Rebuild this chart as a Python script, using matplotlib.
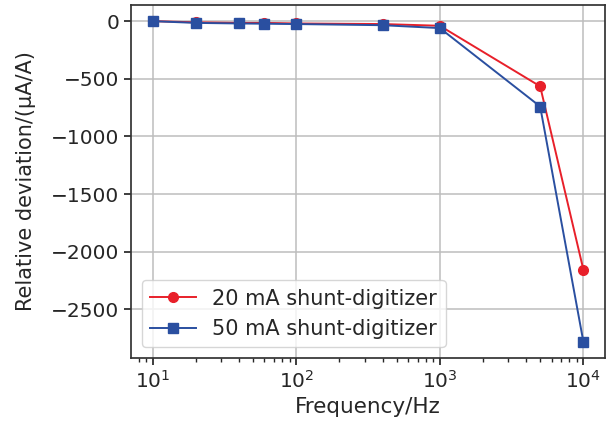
import matplotlib
matplotlib.use("Agg")
import matplotlib.pyplot as plt

freq_hz = [10, 20, 40, 60, 100, 400, 1000, 5000, 10000]
dev_20mA = [0, -10, -15, -15, -20, -25, -40, -565, -2155]
dev_50mA = [0, -15, -20, -22, -25, -35, -60, -740, -2780]

text_grey = "#262626"
plt.rcParams.update({
    "font.size": 15,
    "text.color": text_grey,
    "axes.labelcolor": text_grey,
    "axes.edgecolor": "#333333",
    "axes.linewidth": 1.25,
    "xtick.color": text_grey,
    "ytick.color": text_grey,
    "xtick.labelsize": 14.5,
    "ytick.labelsize": 14.5,
    "xtick.major.size": 5,
    "ytick.major.size": 5,
    "xtick.minor.size": 3,
    "xtick.major.width": 1.25,
    "ytick.major.width": 1.25,
    "xtick.minor.width": 1.0,
})

fig, ax = plt.subplots(figsize=(6.16, 4.28), dpi=100)
fig.subplots_adjust(left=0.213, right=0.982, top=0.988, bottom=0.164)

ax.plot(freq_hz, dev_20mA, color="#e8202a", marker="o", markersize=7, linewidth=1.4,
        label="20 mA shunt-digitizer")
ax.plot(freq_hz, dev_50mA, color="#2a4fa0", marker="s", markersize=7, linewidth=1.4,
        label="50 mA shunt-digitizer")

ax.set_xscale("log")
ax.grid(True, which="major", color="#bdbdbd", linewidth=1.1)
ax.set_axisbelow(True)

ax.set_xlabel("Frequency/Hz", fontsize=15.5)
ax.set_ylabel("Relative deviation/(μA/A)", fontsize=15)
ax.yaxis.set_label_coords(-0.200, 0.5)
ax.legend(loc="lower left", fontsize=15, handlelength=2.2)

fig.savefig("out.png", dpi=100)
